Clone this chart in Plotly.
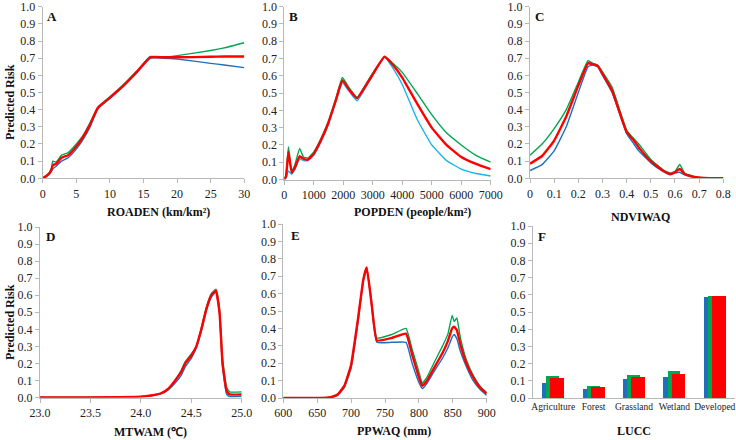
import plotly.graph_objects as go

W, H = 736, 440

# ---------------- data ----------------
# Panel A: ROADEN
roaden_x = [0, 0.5, 1, 1.3, 1.5, 2, 2.8, 3.8, 5, 6, 7, 8.2, 10, 12, 14, 16, 18, 20, 25, 27, 30]
roaden_green = [0, 0.015, 0.035, 0.06, 0.10, 0.095, 0.135, 0.15, 0.2, 0.25, 0.32, 0.415, 0.475, 0.545, 0.625, 0.71, 0.705, 0.715, 0.745, 0.76, 0.79]
roaden_red = [0, 0.012, 0.03, 0.05, 0.075, 0.085, 0.12, 0.135, 0.185, 0.24, 0.31, 0.41, 0.47, 0.54, 0.62, 0.705, 0.705, 0.705, 0.708, 0.71, 0.71]
roaden_blue = [0, 0.01, 0.025, 0.04, 0.055, 0.07, 0.10, 0.12, 0.17, 0.225, 0.295, 0.405, 0.465, 0.535, 0.615, 0.70, 0.70, 0.695, 0.67, 0.66, 0.645]

# Panel B: POPDEN
popden_x = [0, 60, 140, 250, 350, 520, 650, 800, 1000, 1250, 1500, 1750, 1970, 2200, 2470, 2900, 3400, 3700, 4000, 4500, 5000, 5500, 6000, 6500, 7000]
popden_green = [0, 0.03, 0.19, 0.05, 0.08, 0.18, 0.13, 0.125, 0.16, 0.24, 0.34, 0.47, 0.59, 0.53, 0.475, 0.59, 0.71, 0.67, 0.62, 0.5, 0.375, 0.27, 0.2, 0.14, 0.1]
popden_red = [0, 0.02, 0.16, 0.04, 0.065, 0.135, 0.12, 0.115, 0.15, 0.23, 0.33, 0.46, 0.575, 0.52, 0.47, 0.58, 0.71, 0.66, 0.59, 0.44, 0.3, 0.2, 0.13, 0.09, 0.06]
popden_blue = [0, 0.01, 0.05, 0.03, 0.055, 0.12, 0.11, 0.11, 0.14, 0.22, 0.32, 0.45, 0.56, 0.51, 0.455, 0.575, 0.71, 0.64, 0.55, 0.35, 0.2, 0.11, 0.06, 0.035, 0.02]

# Panel C: NDVIWAQ
ndvi_x = [0, 0.05, 0.1, 0.15, 0.2, 0.24, 0.26, 0.28, 0.3, 0.34, 0.4, 0.43, 0.45, 0.5, 0.55, 0.58, 0.6, 0.62, 0.64, 0.68, 0.72, 0.8]
ndvi_green = [0.135, 0.2, 0.29, 0.4, 0.56, 0.685, 0.67, 0.66, 0.62, 0.53, 0.28, 0.23, 0.2, 0.11, 0.05, 0.03, 0.04, 0.08, 0.03, 0.01, 0.003, 0]
ndvi_red = [0.085, 0.13, 0.22, 0.36, 0.54, 0.67, 0.665, 0.655, 0.61, 0.51, 0.27, 0.22, 0.18, 0.1, 0.045, 0.025, 0.035, 0.055, 0.025, 0.008, 0.002, 0]
ndvi_blue = [0.045, 0.08, 0.16, 0.3, 0.5, 0.65, 0.66, 0.65, 0.6, 0.5, 0.26, 0.2, 0.16, 0.09, 0.04, 0.02, 0.03, 0.035, 0.02, 0.005, 0.001, 0]

# Panel D: MTWAM
mtwam_x = [23.0, 23.5, 24.0, 24.1, 24.2, 24.27, 24.34, 24.4, 24.44, 24.5, 24.55, 24.6, 24.65, 24.7, 24.745, 24.78, 24.81, 24.85, 24.88, 25.0]
mtwam_green = [0, 0.001, 0.005, 0.012, 0.025, 0.05, 0.1, 0.16, 0.21, 0.255, 0.3, 0.41, 0.53, 0.61, 0.635, 0.52, 0.23, 0.06, 0.033, 0.033]
mtwam_red = [0, 0.001, 0.005, 0.012, 0.025, 0.05, 0.1, 0.15, 0.2, 0.245, 0.3, 0.4, 0.52, 0.6, 0.625, 0.5, 0.2, 0.04, 0.018, 0.018]
mtwam_blue = [0, 0.001, 0.005, 0.01, 0.022, 0.045, 0.085, 0.13, 0.18, 0.23, 0.29, 0.39, 0.51, 0.59, 0.62, 0.49, 0.18, 0.02, 0.005, 0.005]

# Panel E: PPWAQ
ppwaq_x = [600, 650, 670, 680, 690, 700, 710, 718, 723, 730, 738, 760, 781, 790, 800, 805, 812, 822, 835, 843, 849, 852, 856, 861, 870, 880, 890, 900]
ppwaq_green = [0, 0, 0.005, 0.02, 0.07, 0.19, 0.45, 0.68, 0.75, 0.56, 0.345, 0.365, 0.40, 0.28, 0.15, 0.085, 0.12, 0.2, 0.3, 0.37, 0.475, 0.44, 0.46, 0.35, 0.22, 0.13, 0.07, 0.03]
ppwaq_red = [0, 0, 0.005, 0.02, 0.07, 0.19, 0.45, 0.68, 0.75, 0.55, 0.33, 0.345, 0.37, 0.25, 0.12, 0.07, 0.1, 0.17, 0.26, 0.33, 0.4, 0.41, 0.39, 0.31, 0.2, 0.12, 0.06, 0.025]
ppwaq_blue = [0, 0, 0.004, 0.015, 0.06, 0.17, 0.43, 0.67, 0.75, 0.54, 0.32, 0.32, 0.32, 0.2, 0.09, 0.055, 0.085, 0.15, 0.23, 0.29, 0.35, 0.365, 0.34, 0.27, 0.18, 0.1, 0.05, 0.015]

# Panel F: LUCC
lucc_cats = ["Agriculture", "Forest", "Grassland", "Wetland", "Developed"]
lucc_blue = [0.09, 0.055, 0.11, 0.12, 0.59]
lucc_green = [0.13, 0.07, 0.135, 0.155, 0.595]
lucc_red = [0.115, 0.063, 0.125, 0.14, 0.595]

y_ticks = [round(i * 0.1, 1) for i in range(11)]
y_tick_text = [f"{v:.1f}" for v in y_ticks]

GREEN = "#00a650"
RED = "#ff0000"
BLUE = "#1f6fbf"
CYAN = "#1ab2e8"
AXIS = "#b8b8b8"
FONT = "Liberation Serif, Times New Roman, serif"


def xd(a, b):
    return [a / W, b / W]


def yd(top, bottom):
    return [1 - bottom / H, 1 - top / H]


fig = go.Figure()

panels = [
    (1, roaden_x, [(roaden_blue, BLUE), (roaden_green, GREEN), (roaden_red, RED)], xd(42.7, 244.3), yd(6.7, 178.3)),
    (2, popden_x, [(popden_blue, CYAN), (popden_green, GREEN), (popden_red, RED)], xd(284.3, 490.7), yd(6.7, 179.5)),
    (3, ndvi_x, [(ndvi_blue, BLUE), (ndvi_green, GREEN), (ndvi_red, RED)], xd(530, 723.3), yd(6.7, 178.3)),
    (4, mtwam_x, [(mtwam_blue, BLUE), (mtwam_green, GREEN), (mtwam_red, RED)], xd(40, 241.7), yd(227, 397.5)),
    (5, ppwaq_x, [(ppwaq_blue, BLUE), (ppwaq_green, GREEN), (ppwaq_red, RED)], xd(283.3, 486.7), yd(224, 398)),
]

for n, xs, series, xdom, ydom in panels:
    sfx = "" if n == 1 else str(n)
    for ys, col in series:
        fig.add_trace(go.Scatter(
            x=xs, y=ys, mode="lines", xaxis="x" + sfx, yaxis="y" + sfx,
            line=dict(color=col, width=2.4 if col == RED else 1.4, shape="spline", smoothing=0.35),
            showlegend=False, hoverinfo="skip"))

# Panel F bars (overlapping, Excel-like)
for vals, col, off, wd in [(lucc_blue, BLUE, -0.27, 0.3), (lucc_green, GREEN, -0.17, 0.32), (lucc_red, RED, -0.07, 0.34)]:
    fig.add_trace(go.Bar(x=lucc_cats, y=vals, xaxis="x6", yaxis="y6", marker=dict(color=col, line=dict(width=0)),
                         offset=off, width=wd, showlegend=False, hoverinfo="skip"))

tickfont = dict(family=FONT, size=12, color="#222")
common_x = dict(showline=True, linecolor=AXIS, linewidth=1, ticks="outside", ticklen=4, tickcolor=AXIS,
                showgrid=False, zeroline=False, tickfont=tickfont, fixedrange=True, automargin=False,
                ticklabeloverflow="allow")
common_y = dict(showline=True, linecolor=AXIS, linewidth=1, ticks="outside", ticklen=4, tickcolor=AXIS,
                showgrid=False, zeroline=False, tickfont=tickfont, range=[0, 1],
                tickvals=y_ticks, ticktext=y_tick_text, fixedrange=True, automargin=False,
                ticklabeloverflow="allow")

layout = dict(width=W, height=H, margin=dict(l=0, r=0, t=0, b=0, autoexpand=False), paper_bgcolor="white",
              plot_bgcolor="white", barmode="overlay", bargap=0, template="none")

x_settings = {
    1: dict(range=[0, 30], tickvals=[0, 5, 10, 15, 20, 25, 30]),
    2: dict(range=[0, 7000], tickvals=[0, 1000, 2000, 3000, 4000, 5000, 6000, 7000]),
    3: dict(range=[0, 0.8], tickvals=[0, 0.1, 0.2, 0.3, 0.4, 0.5, 0.6, 0.7, 0.8],
            ticktext=["0", "0.1", "0.2", "0.3", "0.4", "0.5", "0.6", "0.7", "0.8"]),
    4: dict(range=[23, 25], tickvals=[23, 23.5, 24, 24.5, 25], ticktext=["23.0", "23.5", "24.0", "24.5", "25.0"]),
    5: dict(range=[600, 900], tickvals=[600, 650, 700, 750, 800, 850, 900]),
}

for n, xs, series, xdom, ydom in panels:
    sfx = "" if n == 1 else str(n)
    layout["xaxis" + sfx] = dict(common_x, domain=xdom, anchor="y" + sfx, **x_settings[n])
    layout["yaxis" + sfx] = dict(common_y, domain=ydom, anchor="x" + sfx)

layout["xaxis6"] = dict(common_x, domain=xd(533, 735), anchor="y6", type="category", range=[-0.5, 4.5],
                        ticks="", tickfont=dict(family=FONT, size=9.5, color="#222"))
layout["yaxis6"] = dict(common_y, domain=yd(226, 398), anchor="x6")

fig.update_layout(**layout)

ann = []
def add_text(txt, x, y, size=12, bold=True, angle=0):
    ann.append(dict(text=f"<b>{txt}</b>" if bold else txt, x=x / W, y=1 - y / H, xref="paper", yref="paper",
                    showarrow=False, xanchor="center", yanchor="middle", textangle=angle,
                    font=dict(family=FONT, size=size, color="#111")))

# panel letters
for letter, x, y in [("A", 52, 17), ("B", 293, 16), ("C", 539, 16), ("D", 50, 236), ("E", 295, 235), ("F", 542, 236)]:
    add_text(letter, x, y, size=13)

# axis titles
add_text("ROADEN (km/km²)", 158, 212)
add_text("POPDEN (people/km²)", 412, 212)
add_text("NDVIWAQ", 640, 217)
add_text("MTWAM (℃)", 150, 432)
add_text("PPWAQ (mm)", 394, 431)
add_text("LUCC", 634, 431)
add_text("Predicted Risk", 10, 102, angle=-90)
add_text("Predicted Risk", 10, 322, angle=-90)

fig.update_layout(annotations=ann)

fig.write_html("out.html", config=dict(displayModeBar=False, staticPlot=True),
               post_script="document.body.style.margin='0';document.body.style.padding='0';")
